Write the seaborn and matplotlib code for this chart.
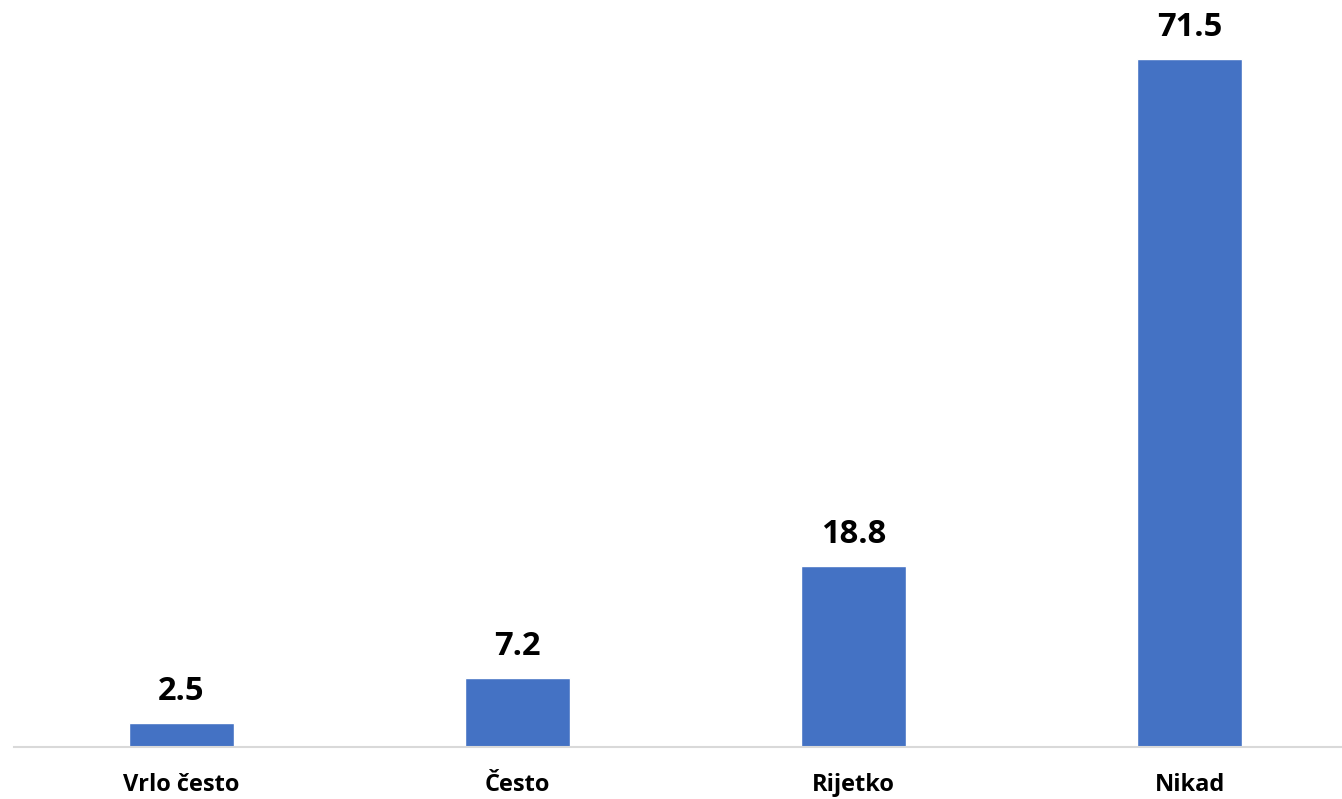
import matplotlib
matplotlib.use("Agg")
import matplotlib.pyplot as plt
import seaborn as sns
import pandas as pd

categories = ["Vrlo često", "Često", "Rijetko", "Nikad"]
values = [2.5, 7.2, 18.8, 71.5]
value_labels = ["2.5", "7.2", "18.8", "71.5"]

sns.set_theme(style="white")
plt.rcParams["font.family"] = ["Open Sans", "DejaVu Sans"]

df = pd.DataFrame({"cat": categories, "val": values})

fig = plt.figure(figsize=(13.42, 7.99), dpi=100)
ax = fig.add_axes([13.5 / 1342, 52 / 799, 1344 / 1342, 747 / 799])
sns.barplot(data=df, x="cat", y="val", color="#4472C4", width=0.315,
            saturation=1, ax=ax)
ax.set_xlim(-0.5, 3.5)
ax.set_ylim(0, 77.6)
for s in ["top", "right", "left"]:
    ax.spines[s].set_visible(False)
ax.spines["bottom"].set_color("#d9d9d9")
ax.spines["bottom"].set_linewidth(1.5)
ax.set_yticks([])
ax.set_xlabel("")
ax.set_ylabel("")
ax.tick_params(axis="x", length=0, pad=19)
for t in ax.get_xticklabels():
    t.set_fontsize(17)
    t.set_fontweight("bold")
    t.set_color("black")
ax.bar_label(ax.containers[0], labels=value_labels, padding=10.5,
             fontsize=23.5, fontweight="bold", color="black")
fig.savefig("out.png", dpi=100)
